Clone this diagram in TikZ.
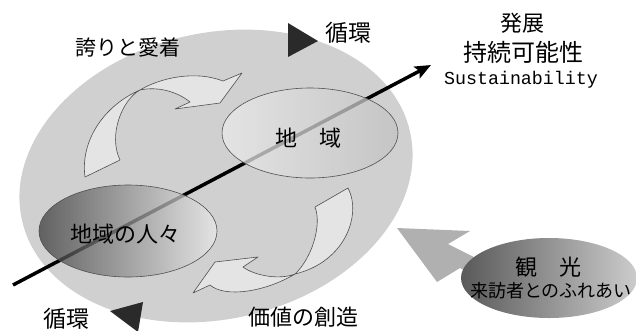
\documentclass[tikz,border=0pt]{standalone}
\usepackage{fontspec}
\newfontfamily\jp{Noto Sans CJK JP}
\newfontfamily\monof{Liberation Mono}
\usetikzlibrary{arrows.meta,shapes.geometric}
\definecolor{biggray}{RGB}{208,208,208}
\definecolor{arrfill}{RGB}{228,228,228}
\definecolor{outl}{RGB}{80,80,80}
\definecolor{tri}{RGB}{42,42,42}
\definecolor{garrow}{RGB}{176,176,176}
\begin{document}
\begin{tikzpicture}[x=1pt,y=-1pt,
  curvarrow/.style={fill=arrfill, draw=outl, line width=0.6pt, line join=round},
  oval/.style={ellipse, draw=outl, line width=0.6pt, fill opacity=0.75, text opacity=1, inner sep=0pt},
  lbl/.style={inner sep=0pt, font=\jp\fontsize{#1pt}{#1pt}\selectfont},
  lbl/.default=22,
  trimark/.style={fill=tri}]
\useasboundingbox (0,0) rectangle (636,330);
% big gray ellipse
\fill[biggray, rotate around={13:(216,176)}] (216,176) ellipse [x radius=199, y radius=143];
% upper-left curved arrow
\path[curvarrow] (85,177) .. controls (80,140) and (105,105) .. (140,90)
  .. controls (160,78) and (195,70) .. (223,81)
  -- (242,73) -- (220,103) -- (175,109) -- (190,102)
  .. controls (178,92) and (158,86) .. (140,90)
  .. controls (122,100) and (108,135) .. (120,160) -- cycle;
% lower-right curved arrow
\path[curvarrow] (348,188) .. controls (362,215) and (345,262) .. (295,274)
  .. controls (265,292) and (225,298) .. (210,285)
  -- (193,293) -- (215,262) -- (258,257) -- (243,267)
  .. controls (255,276) and (280,280) .. (295,274)
  .. controls (312,258) and (322,225) .. (315,207) -- cycle;
% main arrow
\coordinate (s) at (13,285);
\coordinate (e) at (431,65);
\draw[line width=3.5pt, -{Stealth[length=16pt,width=13pt,inset=3pt]}] (s) -- (e);
% ellipses
\node[oval, minimum width=176pt, minimum height=90pt, left color=white!92!black, right color=white!76!black, lbl=22] (chiiki) at (310,133) {};
\node[lbl=22] (chiikit) at (308,138) {地　域};
\node[oval, minimum width=178pt, minimum height=92pt, left color=white!24!black, right color=white!92!black] (hito) at (128,231) {};
\node[lbl=22] (hitot) at (125,234) {地域の人々};
% tourism arrow
\path[fill=garrow] (397,228) -- (470,231) -- (448,244) -- (510,275) -- (503,291) -- (460,268) -- (437,282) -- cycle;
\node[ellipse, draw=none, minimum width=176pt, minimum height=80pt, left color=white!35!black, right color=white!80!black] (kanko) at (549,278) {};
\node[lbl=22] (kankot) at (548,267) {観　光};
\node[lbl=18] (raiho) at (551,291) {来訪者とのふれあい};
% triangles
\fill[trimark] (288,23) -- (288,57) -- (318,41) -- cycle;
\fill[trimark] (110,311) -- (143,302) -- (138,332) -- cycle;
% labels
\node[lbl=21] (hokori) at (128,48) {誇りと愛着};
\node[lbl=23] (jun1) at (348,33) {循環};
\node[lbl=23] (jun2) at (66,319) {循環};
\node[lbl=22] (kachi) at (303,317) {価値の創造};
\node[lbl=22] (hatten) at (522,23) {発展};
\node[lbl=24] (jizoku) at (523,52) {持続可能性};
\node[inner sep=0pt, font=\monof\fontsize{18.3pt}{18.3pt}\selectfont] (sus) at (521,80) {Sustainability};
\end{tikzpicture}
\end{document}
